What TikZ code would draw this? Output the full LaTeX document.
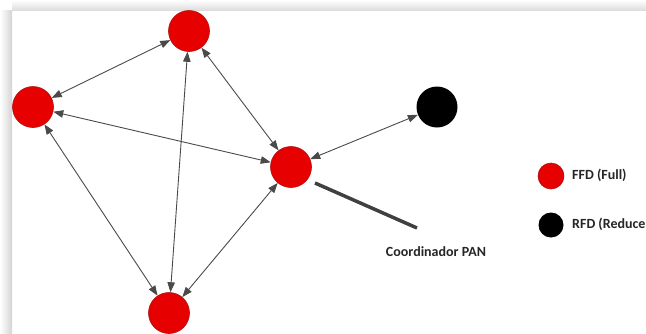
\documentclass[tikz,border=0pt]{standalone}
\usepackage{fontspec}
\setmainfont{Carlito}
\usetikzlibrary{arrows.meta}

\definecolor{nodered}{HTML}{E60000}
\definecolor{rimred}{HTML}{B01010}
\definecolor{linkgray}{HTML}{4A4A4A}

\tikzset{
  ffd/.style={circle, draw=rimred, line width=0.6pt, fill=nodered, minimum size=41pt, inner sep=0pt},
  rfd/.style={circle, fill=black, minimum size=41pt, inner sep=0pt},
  link/.style={draw=linkgray, line width=0.9pt,
    {Triangle[length=10pt,width=7.5pt]}-{Triangle[length=10pt,width=7.5pt]}},
  legtext/.style={font=\bfseries\fontsize{14}{16}\selectfont, text=black!85, inner sep=0pt}
}

\begin{document}
\begin{tikzpicture}[x=1pt,y=-1pt]
	\useasboundingbox (0,0) rectangle (646,333);
	\fill[white] (0,0) rectangle (646,333);
	% page shadow, left and top
	\shade[left color=white, right color=black!17] (0,10) rectangle (12,333);
	\shade[top color=white, bottom color=black!13] (12,0) rectangle (646,10);

	% network
	\node[ffd] (top) at (189,31) {};
	\node[ffd] (left) at (33,107) {};
	\node[ffd] (pan) at (291,167) {};
	\node[ffd] (bottom) at (169,313) {};
	\node[rfd] (rfd) at (437,107) {};

	\draw[link] (top) -- (left);
	\draw[link] (top) -- (pan);
	\draw[link] (top) -- (bottom);
	\draw[link] (left) -- (pan);
	\draw[link] (left) -- (bottom);
	\draw[link] (pan) -- (bottom);
	\draw[link] (pan) -- (rfd);

	% pointer to the coordinator
	\coordinate (pointer start) at (315,183);
	\coordinate (pointer end) at (417,228);
	\draw[line width=3.5pt, black!75] (pointer start) -- (pointer end);
	\node[legtext] (pan label) at (436,252) {Coordinador PAN};

	% legend
	\node[ffd, minimum size=26pt] (ffd key) at (551,176) {};
	\node[legtext, anchor=west] (ffd text) at (572,175) {FFD (Full)};
	\node[rfd, minimum size=25pt] (rfd key) at (551,225) {};
	\node[legtext, anchor=west] (rfd text) at (572,224) {RFD (Reduced)};
\end{tikzpicture}
\end{document}
